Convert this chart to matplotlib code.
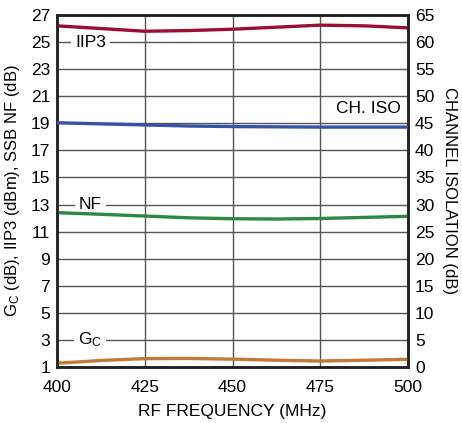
import numpy as np
import matplotlib.pyplot as plt

plt.rcParams['font.family'] = ['Liberation Sans', 'DejaVu Sans']
plt.rcParams['mathtext.fontset'] = 'custom'
plt.rcParams['mathtext.rm'] = 'Liberation Sans'
plt.rcParams['mathtext.it'] = 'Liberation Sans'

# data
freq = [400, 412.5, 425, 437.5, 450, 462.5, 475, 487.5, 500]
iip3 = [26.2, 26.0, 25.8, 25.85, 25.95, 26.1, 26.25, 26.2, 26.05]
nf = [12.4, 12.28, 12.15, 12.02, 11.95, 11.93, 11.97, 12.05, 12.13]
gc = [1.28, 1.48, 1.62, 1.63, 1.58, 1.5, 1.44, 1.5, 1.57]
ch_iso = [45.1, 44.9, 44.7, 44.5, 44.4, 44.35, 44.3, 44.3, 44.3]

x_ticks = [400, 425, 450, 475, 500]
left_ticks = list(range(1, 28, 2))
right_ticks = list(range(0, 66, 5))

fig = plt.figure(figsize=(4.62, 4.23), dpi=100)
ax = fig.add_axes([57/462, 1-367/423, (408-57)/462, (367-15)/423])
ax2 = ax.twinx()

ax.set_xlim(400, 500)
ax.set_ylim(1, 27)
ax2.set_ylim(0, 65)
ax.set_xticks(x_ticks)
ax.set_yticks(left_ticks)
ax2.set_yticks(right_ticks)

ax.grid(True, color='#555555', linewidth=1.0)
ax.set_axisbelow(True)
ax.tick_params(axis='y', length=0, labelsize=12.5, pad=5)
ax.tick_params(axis='x', length=0, labelsize=12.5, pad=9)
ax2.tick_params(length=0, labelsize=12.5, pad=5)
for a in (ax, ax2):
    for s in a.spines.values():
        s.set_linewidth(1.8)
        s.set_color('#222222')

lw = 2.4
ax.plot(freq, iip3, color='#9c0f35', lw=lw, zorder=3)
ax.plot(freq, nf, color='#2e8845', lw=lw, zorder=3)
ax.plot(freq, gc, color='#c27a38', lw=lw, zorder=3)
ax2.plot(freq, ch_iso, color='#3752a3', lw=lw, zorder=3)

# labels sit on gridlines with a white gap around them
box = dict(facecolor='white', edgecolor='none', pad=3)
ax.text(409.5, 25, 'IIP3', fontsize=12.5, ha='center', va='center', bbox=box, zorder=2)
ax.text(409.5, 13, 'NF', fontsize=12.5, ha='center', va='center', bbox=box, zorder=2)
ax.text(409.5, 3, r'G$_\mathrm{C}$', fontsize=12.5, ha='center', va='center', bbox=box, zorder=2)
ax.text(498, 20.1, 'CH. ISO', fontsize=12.5, ha='right', va='center', zorder=2)

ax.set_xlabel('RF FREQUENCY (MHz)', fontsize=12.5, labelpad=7)
ax.set_ylabel(r'G$_\mathrm{C}$ (dB), IIP3 (dBm), SSB NF (dB)', fontsize=12, labelpad=6)
ax2.set_ylabel('CHANNEL ISOLATION (dB)', fontsize=12, rotation=270, labelpad=16)

fig.savefig('out.png', dpi=100)
